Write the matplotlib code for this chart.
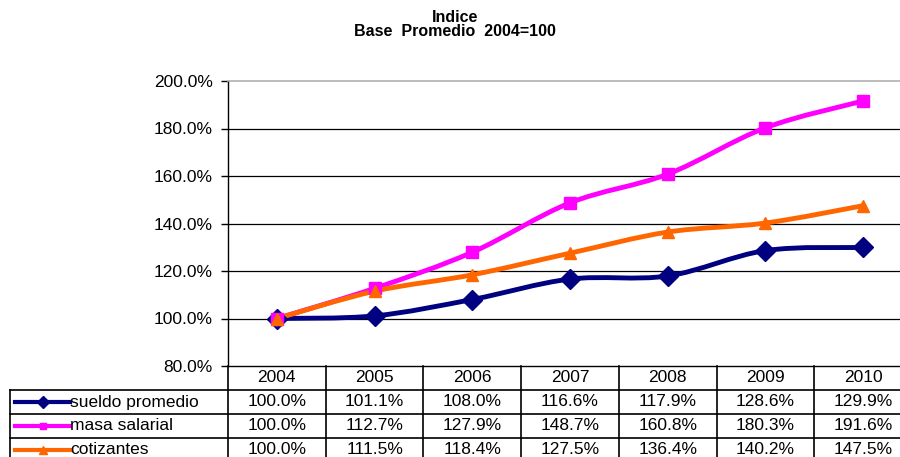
import numpy as np
import matplotlib
matplotlib.use("Agg")
import matplotlib.pyplot as plt
from matplotlib.path import Path
from matplotlib.patches import PathPatch
from matplotlib.lines import Line2D

plt.rcParams['font.family'] = ['Liberation Sans', 'DejaVu Sans']

years = ['2004', '2005', '2006', '2007', '2008', '2009', '2010']
sueldo = [100.0, 101.1, 108.0, 116.6, 117.9, 128.6, 129.9]
masa = [100.0, 112.7, 127.9, 148.7, 160.8, 180.3, 191.6]
cotiz = [100.0, 111.5, 118.4, 127.5, 136.4, 140.2, 147.5]

series = [
    ('sueldo promedio', sueldo, '#000080', 'D', 10),
    ('masa salarial', masa, '#FF00FF', 's', 8),
    ('cotizantes', cotiz, '#FF6600', '^', 9),
]


def smooth_path(x, y):
    # excel-like smoothed line: cubic bezier through the points
    x = np.asarray(x, float)
    y = np.asarray(y, float)
    verts = [(x[0], y[0])]
    codes = [Path.MOVETO]
    n = len(x)
    for i in range(n - 1):
        i0 = max(i - 1, 0)
        i3 = min(i + 2, n - 1)
        c1 = (x[i] + (x[i + 1] - x[i0]) / 6, y[i] + (y[i + 1] - y[i0]) / 6)
        c2 = (x[i + 1] - (x[i3] - x[i]) / 6, y[i + 1] - (y[i3] - y[i]) / 6)
        verts += [c1, c2, (x[i + 1], y[i + 1])]
        codes += [Path.CURVE4] * 3
    return Path(verts, codes)


fig = plt.figure(figsize=(9, 4.57), dpi=100)
W, H = 900, 457
ax_l, ax_r, ax_t, ax_b = 228, 912, 81, 366
ax = fig.add_axes([ax_l / W, 1 - ax_b / H, (ax_r - ax_l) / W, (ax_b - ax_t) / H])

xs = np.arange(len(years))
for name, vals, col, mk, ms in series:
    ax.add_patch(PathPatch(smooth_path(xs, vals), facecolor='none',
                           edgecolor=col, lw=3.5, zorder=3, capstyle='round'))
    ax.plot(xs, vals, ls='none', marker=mk, color=col, ms=ms, zorder=4)

ax.set_xlim(-0.5, len(years) - 0.5)
ax.set_ylim(80, 200)
ticks = np.arange(80, 201, 20)
ax.set_yticks(ticks)
ax.set_yticklabels(['%.1f%%' % v for v in ticks], fontsize=12.5)
ax.tick_params(axis='y', direction='out', length=5, width=1, pad=6)
ax.set_xticks([])
for v in ticks[1:-1]:
    ax.axhline(v, color='black', lw=0.9, zorder=1)
ax.spines['right'].set_visible(False)
ax.spines['top'].set_color('#B0B0B0')
ax.spines['top'].set_linewidth(1.2)
ax.spines['left'].set_linewidth(1)
ax.spines['bottom'].set_linewidth(1)

fig.text(455 / W, 1 - 17 / H, 'Indice', ha='center', va='center',
         fontsize=11.5, fontweight='bold')
fig.text(455 / W, 1 - 31 / H, 'Base  Promedio  2004=100', ha='center',
         va='center', fontsize=11.5, fontweight='bold')

# data table below the axes
trans = ax.get_xaxis_transform()
rh = 24 / (ax_b - ax_t)
cellw = (ax_r - ax_l) / len(years)
label_left = -0.5 - (ax_l - 10) / cellw
n_rows = len(series) + 1
bottom = -rh * n_rows
kw = dict(transform=trans, clip_on=False, color='black', lw=1.2)

# vertical lines
for e in np.arange(len(years) + 1) - 0.5:
    ax.add_line(Line2D([e, e], [0, bottom], **kw))
ax.add_line(Line2D([label_left, label_left], [-rh, bottom], **kw))
# horizontal lines
for r in range(1, n_rows + 1):
    ax.add_line(Line2D([label_left, len(years) - 0.5], [-rh * r, -rh * r], **kw))

for i, y in enumerate(years):
    ax.text(i, -rh * 0.5, y, transform=trans, ha='center', va='center',
            fontsize=12.5, clip_on=False)

key_l = label_left + 5 / cellw
key_r = label_left + 60 / cellw
for r, (name, vals, col, mk, ms) in enumerate(series):
    yc = -rh * (r + 1.5)
    for i, v in enumerate(vals):
        ax.text(i, yc, '%.1f%%' % v, transform=trans, ha='center', va='center',
                fontsize=12.5, clip_on=False)
    ax.add_line(Line2D([key_l, key_r], [yc, yc], transform=trans, clip_on=False,
                       color=col, lw=3))
    ax.add_line(Line2D([(key_l + key_r) / 2], [yc], transform=trans, clip_on=False,
                       color=col, marker=mk, ms=ms * 0.6, ls='none'))
    ax.text(key_r, yc, name, transform=trans, ha='left', va='center',
            fontsize=12.5, clip_on=False)

fig.savefig('out.png', dpi=100)
